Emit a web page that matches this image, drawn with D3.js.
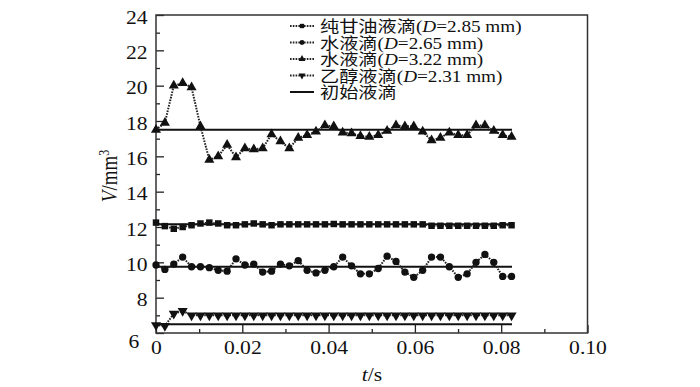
<!DOCTYPE html>
<html>
<head>
<meta charset="utf-8">
<script src="https://cdn.jsdelivr.net/npm/d3@7"></script>
<style>
  body { margin: 0; background: #fff; }
  svg { display: block; }
  text { font-family: "Liberation Serif", "Noto Sans CJK SC", serif; fill: #111; }
</style>
</head>
<body>
<svg id="chart" width="700" height="387"></svg>
<script>
// sample times (s)
const times = [0, 0.00206, 0.00412, 0.00618, 0.00824, 0.0103, 0.01236, 0.01442, 0.01648, 0.01854,
  0.0206, 0.02266, 0.02472, 0.02678, 0.02884, 0.0309, 0.03296, 0.03502, 0.03708, 0.03914,
  0.0412, 0.04326, 0.04532, 0.04738, 0.04944, 0.0515, 0.05356, 0.05562, 0.05768, 0.05974,
  0.0618, 0.06386, 0.06592, 0.06798, 0.07004, 0.0721, 0.07416, 0.07622, 0.07828, 0.08034, 0.0824];

// volumes (mm^3)
const glycerol = [12.25, 12.05, 11.9, 12.0, 12.1, 12.2, 12.25, 12.2, 12.1, 12.1,
  12.15, 12.2, 12.15, 12.1, 12.15, 12.15, 12.15, 12.15, 12.15, 12.15,
  12.17, 12.15, 12.15, 12.15, 12.15, 12.15, 12.15, 12.15, 12.15, 12.15,
  12.15, 12.07, 12.07, 12.07, 12.07, 12.07, 12.07, 12.07, 12.07, 12.1, 12.1];
const water265 = [9.85, 9.6, 9.9, 10.3, 9.75, 9.75, 9.7, 9.55, 9.5, 10.2,
  9.85, 9.9, 9.45, 9.5, 9.9, 9.8, 10.1, 9.55, 9.4, 9.55,
  9.75, 10.3, 9.8, 9.35, 9.35, 9.65, 10.35, 10.05, 9.45, 9.15,
  9.55, 10.3, 10.3, 9.75, 9.15, 9.35, 10.0, 10.45, 10.0, 9.2, 9.2];
const water322 = [17.5, 17.9, 20.0, 20.15, 19.9, 17.7, 15.8, 16.0, 16.65, 15.95,
  16.45, 16.4, 16.45, 17.25, 16.85, 16.45, 17.05, 17.2, 17.4, 17.75,
  17.7, 17.35, 17.3, 17.15, 17.1, 17.2, 17.45, 17.75, 17.7, 17.7,
  17.4, 16.9, 17.05, 17.35, 17.2, 17.2, 17.75, 17.75, 17.45, 17.2, 17.1];
const ethanol = [6.45, 6.4, 7.1, 7.25, 7.0, 7.0, 7.0, 7.0, 7.0, 7.0,
  7.0, 7.0, 7.0, 7.0, 7.0, 7.0, 7.0, 7.0, 7.0, 7.0,
  7.0, 7.0, 7.0, 7.0, 7.0, 7.0, 7.0, 7.0, 7.0, 7.0,
  7.0, 7.0, 7.0, 7.0, 7.0, 7.0, 7.0, 7.0, 7.0, 7.0, 7.0];

// initial droplet volumes, drawn as solid lines from t = 0 to lineEnd
const initialVolumes = [12.15, 9.75, 17.5, 6.5];
const lineEnd = 0.0825;

const seriesNames = ['纯甘油液滴', '水液滴', '水液滴', '乙醇液滴'];
const seriesDiameters = ['2.85', '2.65', '3.22', '2.31'];
const initialName = '初始液滴';

const xTicks = [0, 0.02, 0.04, 0.06, 0.08, 0.1];
const yTicks = [6, 8, 10, 12, 14, 16, 18, 20, 22, 24];

const stretch = 1.2; // glyphs in the figure are drawn a bit wide

const svg = d3.select('#chart');

const x = d3.scaleLinear().domain([0, 0.1]).range([156, 587.5]);
const y = d3.scaleLinear().domain([6, 24]).range([333, 15]);

/**
 * Adds the inward ticks and the tick labels
 */
function addAxes() {
  // minor ticks
  svg.append('g')
    .attr('transform', 'translate(0,' + y(6) + ')')
    .call(d3.axisBottom(x).tickValues(d3.range(0.01, 0.1, 0.02)).tickSize(-4).tickFormat(''))
    .call((g) => g.select('.domain').remove());
  svg.append('g')
    .attr('transform', 'translate(' + x(0) + ',0)')
    .call(d3.axisLeft(y).tickValues(d3.range(7, 24, 2)).tickSize(-4).tickFormat(''))
    .call((g) => g.select('.domain').remove());

  // major ticks
  const xAxis = svg.append('g')
    .attr('transform', 'translate(0,' + y(6) + ')')
    .call(d3.axisBottom(x).tickValues(xTicks).tickSize(-8).tickPadding(8)
      .tickFormat((d) => (d === 0 ? '0' : d === 0.1 ? '0.10' : d3.format('.2f')(d))));
  xAxis.select('.domain').remove();
  xAxis.selectAll('text')
    .attr('font-size', 18)
    .attr('font-family', null)
    .attr('fill', '#111')
    .attr('transform', 'scale(' + stretch + ',1)');

  const yAxis = svg.append('g')
    .attr('transform', 'translate(' + x(0) + ',0)')
    .call(d3.axisLeft(y).tickValues(yTicks).tickSize(-8).tickPadding(7));
  yAxis.select('.domain').remove();
  yAxis.selectAll('text')
    .attr('font-size', 18)
    .attr('font-family', null)
    .attr('fill', '#111')
    .attr('dy', '0.45em')
    .attr('transform', 'scale(' + stretch + ',1)');
  // the lowest label sits lower and further left, clear of the x origin label
  yAxis.selectAll('text').filter((d) => d === 6)
    .attr('dy', '0.8em').attr('x', -14);

  svg.selectAll('.tick line').attr('stroke', '#222').attr('stroke-width', 1.3);

  // frame
  svg.append('rect')
    .attr('x', x(0)).attr('y', y(24))
    .attr('width', x(0.1) - x(0)).attr('height', y(6) - y(24))
    .attr('fill', 'none').attr('stroke', '#333').attr('stroke-width', 1.5);
}

/**
 * Adds the axis titles
 */
function addLabels() {
  const xl = svg.append('text')
    .attr('transform', 'translate(' + 372 + ',381) scale(' + stretch + ',1)')
    .attr('text-anchor', 'middle')
    .attr('font-size', 18);
  xl.append('tspan').attr('font-style', 'italic').text('t');
  xl.append('tspan').text('/s');

  const yl = svg.append('text')
    .attr('transform', 'translate(117,176) rotate(-90) scale(1,' + stretch + ')')
    .attr('text-anchor', 'middle')
    .attr('font-size', 19);
  yl.append('tspan').attr('font-style', 'italic').text('V');
  yl.append('tspan').text('/mm');
  yl.append('tspan').attr('font-size', 12).attr('dy', -7).text('3');
}

const symbolTypes = [d3.symbolSquare, d3.symbolCircle, d3.symbolTriangle, d3.symbolTriangle];
const symbolSizes = [42, 42, 44, 44];
const symbolRotate = [0, 0, 0, 180];

/**
 * Draws one marker of series i at (cx, cy)
 */
function marker(g, i, cx, cy, scale) {
  g.append('path')
    .attr('d', d3.symbol().type(symbolTypes[i]).size(symbolSizes[i] * scale)())
    .attr('transform', 'translate(' + cx + ',' + cy + ') rotate(' + symbolRotate[i] + ')')
    .attr('fill', '#111');
}

/**
 * Draws the initial volume lines and the four measured series
 */
function drawSeries() {
  const lines = svg.append('g');
  initialVolumes.forEach((v) => {
    lines.append('line')
      .attr('x1', x(0)).attr('x2', x(lineEnd))
      .attr('y1', y(v)).attr('y2', y(v))
      .attr('stroke', '#111').attr('stroke-width', 2);
  });

  const allSeries = [glycerol, water265, water322, ethanol];
  const line = d3.line().x((d) => x(d[0])).y((d) => y(d[1]));
  allSeries.forEach((vals, i) => {
    const pts = times.map((t, k) => [t, vals[k]]);
    const g = svg.append('g');
    g.append('path')
      .attr('d', line(pts))
      .attr('fill', 'none')
      .attr('stroke', '#222')
      .attr('stroke-width', 2)
      .attr('stroke-dasharray', '1.6,1.2');
    pts.forEach((p) => marker(g, i, x(p[0]), y(p[1]), 1));
  });
}

/**
 * Draws the legend in the upper right
 */
function addLegend() {
  const g = svg.append('g');
  const rowY = [26, 42.5, 59, 75.5, 92];
  seriesNames.forEach((name, i) => {
    g.append('line')
      .attr('x1', 290).attr('x2', 314)
      .attr('y1', rowY[i]).attr('y2', rowY[i])
      .attr('stroke', '#222').attr('stroke-width', 1.8)
      .attr('stroke-dasharray', '1.6,1.2');
    marker(g, i, 302, rowY[i], 0.45);
    const t = g.append('text')
      .attr('transform', 'translate(320,' + (rowY[i] + 6) + ') scale(' + stretch + ',1)')
      .attr('font-size', 16);
    t.append('tspan').text(name + '(');
    t.append('tspan').attr('font-style', 'italic').text('D');
    t.append('tspan').text('=' + seriesDiameters[i] + ' mm)');
  });
  g.append('line')
    .attr('x1', 290).attr('x2', 314)
    .attr('y1', rowY[4]).attr('y2', rowY[4])
    .attr('stroke', '#111').attr('stroke-width', 2);
  g.append('text')
    .attr('transform', 'translate(320,' + (rowY[4] + 6) + ') scale(' + stretch + ',1)')
    .attr('font-size', 16)
    .text(initialName);
}

addAxes();
drawSeries();
addLegend();
addLabels();
</script>
</body>
</html>
